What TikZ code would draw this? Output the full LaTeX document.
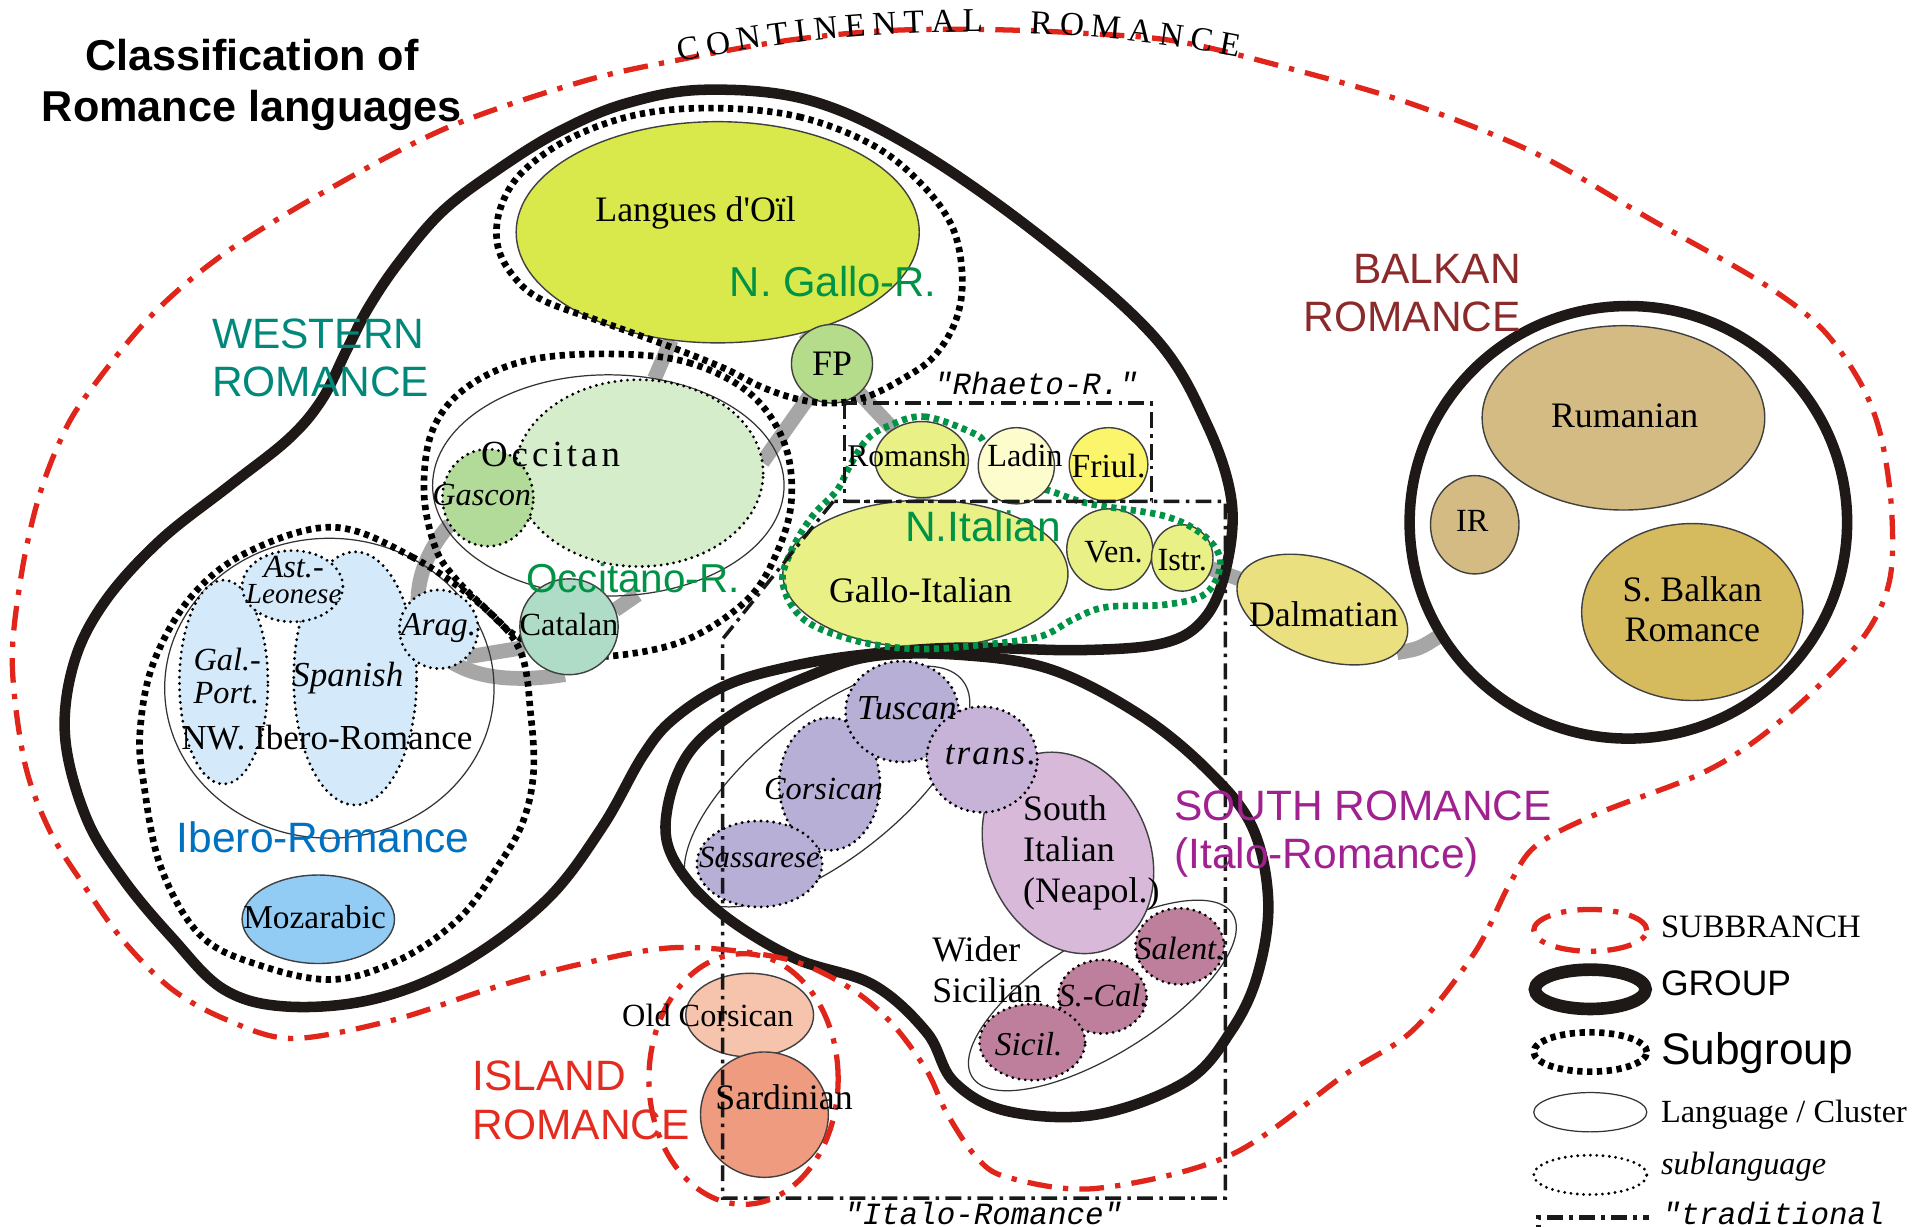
\documentclass[tikz,border=0pt]{standalone}
\usepackage{fontspec}
\setmainfont{Liberation Serif}
\setsansfont{Liberation Sans}
\setmonofont{Liberation Mono}
\usetikzlibrary{shapes.geometric,decorations.text,backgrounds}

\definecolor{oilc}{RGB}{217,232,74}
\definecolor{fpc}{RGB}{181,220,138}
\definecolor{occc}{RGB}{214,237,203}
\definecolor{gasc}{RGB}{178,219,154}
\definecolor{catc}{RGB}{174,220,198}
\definecolor{iberc}{RGB}{212,234,250}
\definecolor{mozc}{RGB}{146,203,244}
\definecolor{nitc}{RGB}{232,240,134}
\definecolor{ladc}{RGB}{252,252,204}
\definecolor{friulc}{RGB}{251,245,107}
\definecolor{dalmc}{RGB}{235,224,128}
\definecolor{rumc}{RGB}{212,187,131}
\definecolor{sbalkc}{RGB}{213,187,94}
\definecolor{tuscc}{RGB}{184,175,214}
\definecolor{transc}{RGB}{199,178,216}
\definecolor{neapc}{RGB}{216,185,218}
\definecolor{sicc}{RGB}{189,127,155}
\definecolor{ocorc}{RGB}{246,195,173}
\definecolor{sardc}{RGB}{238,155,128}
\definecolor{linkgray}{RGB}{166,166,166}
\definecolor{subred}{RGB}{224,38,27}
\definecolor{groupc}{RGB}{30,25,22}
\definecolor{westc}{RGB}{0,137,123}
\definecolor{galloc}{RGB}{0,147,69}
\definecolor{iberoc}{RGB}{0,112,192}
\definecolor{balkc}{RGB}{139,42,42}
\definecolor{southc}{RGB}{160,33,143}
\definecolor{islandc}{RGB}{227,43,31}

\begin{document}
\begin{tikzpicture}[x=0.35pt,y=-0.35pt,
  lang/.style={ellipse,draw=black!75,line width=0.4pt,inner sep=0pt,outer sep=0pt},
  cluster/.style={lang,draw=black!80,line width=0.35pt},
  sublang/.style={ellipse,draw=black,line width=0.9pt,dash pattern=on 0pt off 1.8pt,
    line cap=round,inner sep=0pt,outer sep=0pt},
  wh/.style 2 args={minimum width=#1*0.35pt,minimum height=#2*0.35pt},
  group line/.style={draw=groupc,line width=3pt},
  subgroup line/.style={draw=black,line width=1.9pt,dash pattern=on 1.5pt off 1.3pt},
  subbranch line/.style={draw=subred,line width=1.5pt,dash pattern=on 7pt off 3.2pt on 1.5pt off 3.2pt},
  trad line/.style={draw=black!90,line width=1pt,dash pattern=on 4.5pt off 1.8pt on 1pt off 1.8pt},
  link/.style={draw=linkgray,line width=4.2pt},
  lbl/.style={inner sep=0pt,font=\fontsize{10.2}{11.3}\selectfont,align=center},
  small lbl/.style={lbl,font=\fontsize{9.2}{10.2}\selectfont},
  sub lbl/.style={lbl,font=\fontsize{9.2}{10.2}\selectfont\itshape},
  branch lbl/.style={inner sep=0pt,font=\sffamily\fontsize{12.1}{13.7}\selectfont,align=left},
  trad lbl/.style={inner sep=0pt,font=\ttfamily\itshape\fontsize{8.8}{10}\selectfont}]

  \useasboundingbox (0,0) rectangle (1568,998);

  % clusters
  \node[cluster,wh={286}{180}] (occ) at (495,395) {};
  \node[cluster,wh={268}{244}] (nwib) at (268,560) {};
  \node[cluster,wh={280}{118},rotate=38] (tcs) at (673,640) {};
  \node[cluster,wh={250}{95},rotate=32] (wsic) at (897,810) {};

  % languages and sublanguages
  \node[lang,fill=oilc,wh={328}{180}] (oil) at (584,189) {};
  \node[lang,fill=fpc,wh={66}{64}] (fp) at (677,296) {};
  \node[sublang,fill=occc,wh={202}{152}] (occS) at (520,385) {};
  \node[sublang,fill=gasc,wh={74}{79}] (gas) at (397,405) {};
  \node[sublang,fill=iberc,wh={72}{166}] (galp) at (182,555) {};
  \node[sublang,fill=iberc,wh={100}{206}] (spa) at (289,552) {};
  \node[sublang,fill=iberc,wh={82}{58}] (astl) at (238,477) {};
  \node[sublang,fill=iberc,wh={64}{64}] (arag) at (357,512) {};
  \node[lang,fill=mozc,wh={124}{72}] (moz) at (259,748) {};
  \node[lang,fill=nitc,wh={76}{62}] (roh) at (750,374) {};
  \node[lang,fill=nitc,wh={232}{120}] (gallo) at (753,467) {};
  \node[lang,fill=nitc,wh={70}{66}] (ven) at (903,447) {};
  \node[lang,fill=nitc,wh={50}{54}] (istr) at (962,454) {};
  \node[lang,fill=dalmc,wh={145}{80},rotate=-20] (dalm) at (1076,496) {};
  \node[lang,fill=rumc,wh={230}{150}] (rum) at (1321,340) {};
  \node[lang,fill=rumc,wh={72}{80}] (ir) at (1200,427) {};
  \node[lang,fill=sbalkc,wh={180}{144}] (sbalk) at (1377,498) {};
  \node[lang,fill=neapc,wh={132}{170},rotate=25] (neap) at (869,694) {};
  \node[sublang,fill=tuscc,wh={82}{108}] (cor) at (675,638) {};
  \node[sublang,fill=tuscc,wh={102}{70}] (sas) at (618,703) {};
  \node[sublang,fill=tuscc,wh={92}{82}] (tus) at (734,579) {};
  \node[sublang,fill=transc,wh={90}{86}] (trans) at (799,618) {};
  \node[sublang,fill=sicc,wh={72}{62}] (sal) at (960,770) {};
  \node[sublang,fill=sicc,wh={72}{60}] (scal) at (897,811) {};
  \node[sublang,fill=sicc,wh={86}{62}] (sic) at (840,848) {};
  \node[lang,fill=ocorc,wh={104}{68}] (ocor) at (610,826) {};
  \node[lang,fill=sardc,wh={104}{102}] (sard) at (622,907) {};

  % groups
  \draw[group line] plot[smooth cycle,tension=0.6] coordinates {(575,73) (660,82) (746,122)
    (850,195) (940,275) (982,345) (1002,407) (998,461) (981,502) (948,523) (880,529)
    (780,527) (700,533) (640,543) (590,558) (548,585) (523,615) (490,673) (444,733)
    (374,785) (304,813) (233,819) (182,805) (140,763) (100,715) (70,665) (53,600)
    (60,540) (85,490) (130,440) (187,395) (235,357) (262,325) (282,285) (300,250)
    (325,213) (360,172) (405,138) (455,107) (510,84)};
  \draw[group line] plot[smooth cycle,tension=0.6] coordinates {(656,551) (710,534) (783,533)
    (856,545) (928,582) (983,627) (1019,673) (1032,734) (1023,794) (1001,840) (965,880)
    (892,907) (819,904) (776,880) (754,840) (710,801) (645,779) (583,740) (547,697)
    (543,658) (561,612) (601,578)};
  \node[ellipse,group line,inner sep=0pt,outer sep=0pt,wh={356}{352}] (balkan) at (1325,425) {};

  % subgroups
  \draw[subgroup line] plot[smooth cycle,tension=0.6] coordinates {(583,88) (650,95) (710,118)
    (750,150) (775,185) (783,225) (778,260) (760,290) (735,308) (705,323) (678,328)
    (650,325) (620,315) (590,300) (545,282) (490,262) (441,244) (418,225) (405,200)
    (407,170) (425,140) (465,112) (520,93)};
  \draw[subgroup line] plot[smooth cycle,tension=0.6] coordinates {(499,288) (560,295)
    (610,320) (638,360) (644,407) (632,450) (608,488) (560,520) (505,533) (460,532)
    (421,518) (395,495) (370,470) (354,445) (345,400) (352,350) (380,315) (430,293)};
  \draw[subgroup line] plot[smooth cycle,tension=0.6] coordinates {(271,429) (335,453)
    (390,491) (423,529) (432,583) (434,630) (425,670) (405,705) (374,747) (327,780)
    (271,797) (210,785) (163,761) (131,706) (117,638) (114,594) (125,539) (156,485)
    (202,449)};
  \draw[subgroup line,draw=galloc] plot[smooth cycle,tension=0.6] coordinates {(722,347)
    (752,339) (793,353) (803,363) (829,393) (853,399) (887,410) (948,420) (981,437)
    (993,458) (981,483) (948,492) (900,494) (873,504) (846,518) (796,525) (745,528)
    (695,521) (654,504) (637,475) (644,448) (661,420) (681,399) (691,380) (705,358)};

  \node[lang,fill=catc,wh={80}{78}] (cat) at (463,510) {};
  \node[lang,fill=ladc,wh={62}{62}] (lad) at (827,379) {};
  \node[lang,fill=friulc,wh={64}{60}] (fur) at (902,378) {};

  % "traditional" boxes
  \draw[trad line] (687,328) rectangle (937,408);
  \draw[trad line] (678,408) -- (588,520) -- (588,975) -- (997,975) -- (997,408) -- cycle;

  % subbranches
  \draw[subbranch line] plot[smooth cycle,tension=0.55] coordinates {(556,48) (640,33)
    (720,25) (800,24) (880,27) (960,34) (1058,58) (1150,85) (1250,125) (1344,179)
    (1432,229) (1481,266) (1513,310) (1530,353) (1539,412) (1538,470) (1520,513)
    (1481,557) (1432,600) (1383,630) (1300,662) (1250,688) (1228,720) (1200,775)
    (1150,838) (1095,874) (1001,940) (892,967) (820,958) (794,941) (770,905) (754,871)
    (725,832) (690,803) (638,780) (551,771) (470,785) (397,805) (320,830) (238,845)
    (185,830) (140,805) (100,765) (68,720) (40,675) (20,620) (10,540) (17,470) (30,410)
    (47,363) (68,325) (122,258) (183,206) (271,152) (366,103) (475,66)};
  \node[ellipse,subbranch line,inner sep=0pt,wh={154}{204}] (island) at (605,878) {};

  % branch and subgroup labels
  \node[inner sep=0pt,font=\sffamily\bfseries\fontsize{12.3}{14.7}\selectfont,align=center,
    anchor=north] (title) at (205,31) {Classification of\\Romance languages};
  \path[decorate,decoration={text along path,text align=fit to path,
    text={|\fontsize{9.5}{10}\selectfont|CONTINENTAL}}]
    (553,50.2) .. controls (635.3,33.4) and (717.7,25.4) .. (800,26);
  \path[decorate,decoration={text along path,text align=fit to path,
    text={|\fontsize{9.5}{10}\selectfont|ROMANCE}}]
    (838,27) .. controls (896,29.4) and (954,36.1) .. (1008,46.5);
  \node[branch lbl,text=westc,anchor=north west] (westT) at (172,259) {WESTERN\\ROMANCE};
  \node[branch lbl,text=balkc,anchor=north east,align=right] (balkT) at (1238,206) {BALKAN\\ROMANCE};
  \node[branch lbl,text=southc,anchor=north west] (southT) at (955,643) {SOUTH ROMANCE\\(Italo-Romance)};
  \node[branch lbl,text=islandc,anchor=north west] (islandT) at (384,863) {ISLAND\\ROMANCE};
  \node[branch lbl,text=galloc,font=\sffamily\fontsize{11.9}{13}\selectfont] (nGalloT) at (678,229) {N. Gallo-R.};
  \node[branch lbl,text=galloc,font=\sffamily\fontsize{11.5}{13}\selectfont] (occRT) at (515,470) {Occitano-R.};
  \node[branch lbl,text=galloc] (nItT) at (800,428) {N.Italian};
  \node[branch lbl,text=iberoc] (iberoT) at (263,681) {Ibero-Romance};
  \node[trad lbl] (rhaetoT) at (843,312) {"Rhaeto-R."};
  \node[trad lbl] (italoT) at (800,987) {"Italo-Romance"};

  % language labels
  \node[lbl] (oilT) at (566,173) {Langues d\textquotesingle Oïl};
  \node[lbl] (fpT) at (fp) {FP};
  \node[lbl,font=\fontsize{10.5}{11}\selectfont\addfontfeature{LetterSpace=11}] (occT) at (448,370) {Occitan};
  \node[sub lbl] (gasT) at (392,403) {Gascon};
  \node[small lbl] (catT) at (463,508) {Catalan};
  \node[sub lbl] (astT) at (239,472) {Ast.-\\[-2.8pt]{\fontsize{8.3}{9}\selectfont Leonese}};
  \node[sub lbl,align=left,anchor=west] (galT) at (157,550) {Gal.-\\[-0.8pt]Port.};
  \node[sub lbl,font=\fontsize{10}{11}\selectfont\itshape] (spaT) at (283,552) {Spanish};
  \node[sub lbl,font=\fontsize{9.5}{10}\selectfont\itshape] (aragT) at (357,511) {Arag.};
  \node[lbl,font=\fontsize{10}{11}\selectfont] (nwibT) at (266,600) {NW. Ibero-Romance};
  \node[small lbl,font=\fontsize{9.5}{10}\selectfont] (mozT) at (256,746) {Mozarabic};
  \node[small lbl,font=\fontsize{9}{10}\selectfont] (rohT) at (738,371) {Romansh};
  \node[small lbl] (ladT) at (834,371) {Ladin};
  \node[small lbl,font=\fontsize{9.6}{10}\selectfont] (furT) at (902,379) {Friul.};
  \node[lbl] (galloT) at (749,480) {Gallo-Italian};
  \node[small lbl] (venT) at (906,449) {Ven.};
  \node[small lbl] (istrT) at (962,456) {Istr.};
  \node[lbl] (dalmT) at (1077,500) {Dalmatian};
  \node[lbl] (rumT) at (1322,338) {Rumanian};
  \node[small lbl] (irT) at (1198,424) {IR};
  \node[lbl] (sbalkT) at (1377,496) {S. Balkan\\Romance};
  \node[sub lbl,font=\fontsize{10}{11}\selectfont\itshape] (tusT) at (738,576) {Tuscan};
  \node[sub lbl] (corT) at (670,642) {Corsican};
  \node[sub lbl,font=\fontsize{8.8}{10}\selectfont\itshape] (sasT) at (618,698) {Sassarese};
  \node[sub lbl,font=\fontsize{10}{11}\selectfont\itshape\addfontfeature{LetterSpace=6}] (transT) at (806,614) {trans.};
  \node[lbl,font=\fontsize{10.2}{11.55}\selectfont,align=left,anchor=west] (neapT) at (832,694) {South\\Italian\\(Neapol.)};
  \node[lbl,font=\fontsize{10.2}{11.55}\selectfont,align=left,anchor=west] (wsicT) at (758,789) {Wider\\Sicilian};
  \node[sub lbl] (salT) at (960,772) {Salent.};
  \node[sub lbl] (scalT) at (898,810) {S.-Cal.};
  \node[sub lbl,font=\fontsize{9.5}{10}\selectfont\itshape] (sicT) at (837,850) {Sicil.};
  \node[small lbl] (ocorT) at (576,826) {Old Corsican};
  \node[lbl] (sardT) at (638,893) {Sardinian};

  % legend
  \node[ellipse,subbranch line,inner sep=0pt,wh={92}{34}] (keySub) at (1294,757) {};
  \node[ellipse,group line,line width=3.6pt,inner sep=0pt,wh={90}{32}] (keyGroup) at (1294,805) {};
  \node[ellipse,subgroup line,inner sep=0pt,wh={92}{32}] (keySubg) at (1294,856) {};
  \node[cluster,wh={92}{32}] (keyLang) at (1294,905) {};
  \node[sublang,wh={92}{32}] (keySubl) at (1294,956) {};
  \draw[trad line,line width=1.4pt] (1252,1010) -- (1252,991) -- (1342,991);
  \node[inner sep=0pt,anchor=base west,font=\fontsize{9.3}{10}\selectfont] (keySubT) at (1351,763) {SUBBRANCH};
  \node[inner sep=0pt,anchor=base west,font=\sffamily\fontsize{10.1}{11}\selectfont] (keyGroupT) at (1351,810) {GROUP};
  \node[inner sep=0pt,anchor=base west,font=\sffamily\fontsize{12.6}{13}\selectfont] (keySubgT) at (1351,866) {Subgroup};
  \node[inner sep=0pt,anchor=base west,font=\fontsize{9.2}{10}\selectfont] (keyLangT) at (1351,913) {Language / Cluster};
  \node[inner sep=0pt,anchor=base west,font=\fontsize{9.2}{10}\selectfont\itshape] (keySublT) at (1351,956) {sublanguage};
  \node[trad lbl,anchor=base west] (keyTradT) at (1352,996) {"traditional};

  % links between languages
  \begin{scope}[on background layer]
    \fill[white] (0,0) rectangle (1568,998);
    \draw[link] (oil) -- (occ);
    \draw[link] (oil) -- (fp);
    \draw[link] (fp.235) -- (occS.5);
    \draw[link] (fp) -- (roh);
    \draw[link] (roh) -- (gallo);
    \draw[link] (gas.215) .. controls (318,480) and (330,570) .. (cat.265);
    \draw[link] (arag.315) -- (cat.205);
    \draw[link] (cat.20) -- (occ.285);
    \draw[link] (istr) -- (dalm);
    \draw[link] (dalm.-10) .. controls (1155,528) .. (balkan.211);
  \end{scope}

\end{tikzpicture}
\end{document}
